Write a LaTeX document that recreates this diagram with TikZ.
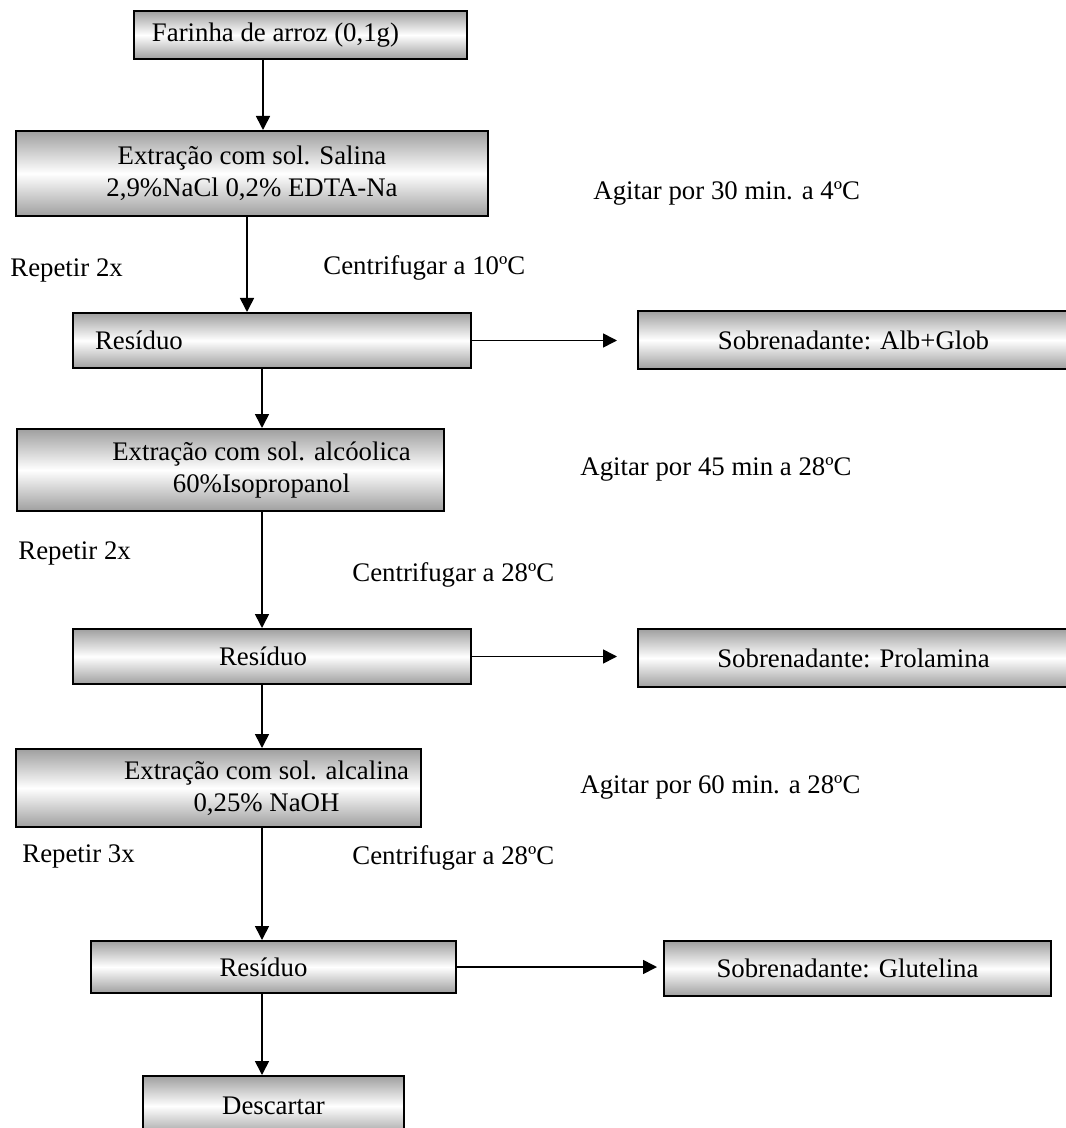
\documentclass[tikz,border=0pt]{standalone}
\usepackage{fontspec}
\setmainfont{Liberation Serif}
\usetikzlibrary{arrows.meta}

\begin{document}
\begin{tikzpicture}[x=0.5pt, y=-0.5pt,
    caixa/.style={draw=black, line width=1pt, anchor=north west, inner sep=0pt,
        top color=gray!75, bottom color=gray!75, middle color=white,
        align=center, font=\fontsize{13.4}{16}\selectfont},
    seta/.style={line width=0.8pt, -{Triangle[length=7pt, width=7pt]}},
    nota/.style={anchor=west, inner sep=0pt, font=\fontsize{13.4}{16}\selectfont}]
    \useasboundingbox (0,0) rectangle (1065,1128);

    % Eixos das setas verticais
    \coordinate (eixoA) at (263,0);
    \coordinate (eixoB) at (247,0);
    \coordinate (eixo) at (262,0);

    % Caixas
    \node[caixa, minimum width=166.5pt, minimum height=24pt] (farinha) at (133,10) {Farinha de arroz (0,1g)\hspace*{25pt}};
    \node[caixa, minimum width=236pt, minimum height=42.5pt] (salina) at (15,130) {Extração com sol. Salina\\2,9\%NaCl 0,2\% EDTA-Na};
    \node[caixa, text width=177pt, minimum height=27.5pt, inner xsep=11pt, align=left] (res1) at (72,312) {Resíduo};
    \node[caixa, minimum width=215.5pt, minimum height=29pt] (sob1) at (637,310) {Sobrenadante: Alb+Glob};
    \node[caixa, minimum width=213.5pt, minimum height=41pt] (alcoolica) at (16,428) {\hspace*{31pt}Extração com sol. alcóolica\\\hspace*{31pt}60\%Isopropanol};
    \node[caixa, minimum width=199pt, minimum height=27.5pt] (res2) at (72,628) {Resíduo\hspace*{9pt}};
    \node[caixa, minimum width=215.5pt, minimum height=29pt] (sob2) at (637,628) {Sobrenadante: Prolamina};
    \node[caixa, minimum width=202.5pt, minimum height=39pt] (alcalina) at (15,748) {\hspace*{48pt}Extração com sol. alcalina\\\hspace*{48pt}0,25\% NaOH};
    \node[caixa, minimum width=182.5pt, minimum height=26pt] (res3) at (90,940) {Resíduo\hspace*{10pt}};
    \node[caixa, minimum width=193.5pt, minimum height=27.5pt] (sob3) at (663,940) {Sobrenadante: Glutelina\hspace*{10pt}};
    \node[caixa, minimum width=130.5pt, minimum height=30pt] (descartar) at (142,1075) {Descartar};

    % Setas verticais
    \draw[seta] (farinha.south -| eixoA) -- (salina.north -| eixoA);
    \draw[seta] (salina.south -| eixoB) -- (res1.north -| eixoB);
    \draw[seta] (res1.south -| eixo) -- (alcoolica.north -| eixo);
    \draw[seta] (alcoolica.south -| eixo) -- (res2.north -| eixo);
    \draw[seta] (res2.south -| eixo) -- (alcalina.north -| eixo);
    \draw[seta] (alcalina.south -| eixo) -- (res3.north -| eixo);
    \draw[seta] (res3.south -| eixo) -- (descartar.north -| eixo);

    % Setas horizontais
    \draw[seta] (res1.east) -- ([xshift=-10pt]res1.east -| sob1.west);
    \draw[seta] (res2.east) -- ([xshift=-10pt]res2.east -| sob2.west);
    \draw[seta] (res3.east) -- ([xshift=-3pt]res3.east -| sob3.west);

    % Textos
    \node[nota] (agitar1) at (593,193) {Agitar por 30 min. a 4ºC};
    \node[nota] (repetir1) at (10,270) {Repetir 2x};
    \node[nota] (centri1) at (323,268) {Centrifugar a 10ºC};
    \node[nota] (agitar2) at (580,469) {Agitar por 45 min a 28ºC};
    \node[nota] (repetir2) at (18,553) {Repetir 2x};
    \node[nota] (centri2) at (352,575) {Centrifugar a 28ºC};
    \node[nota] (agitar3) at (580,787) {Agitar por 60 min. a 28ºC};
    \node[nota] (repetir3) at (22,856) {Repetir 3x};
    \node[nota] (centri3) at (352,858) {Centrifugar a 28ºC};
\end{tikzpicture}
\end{document}
